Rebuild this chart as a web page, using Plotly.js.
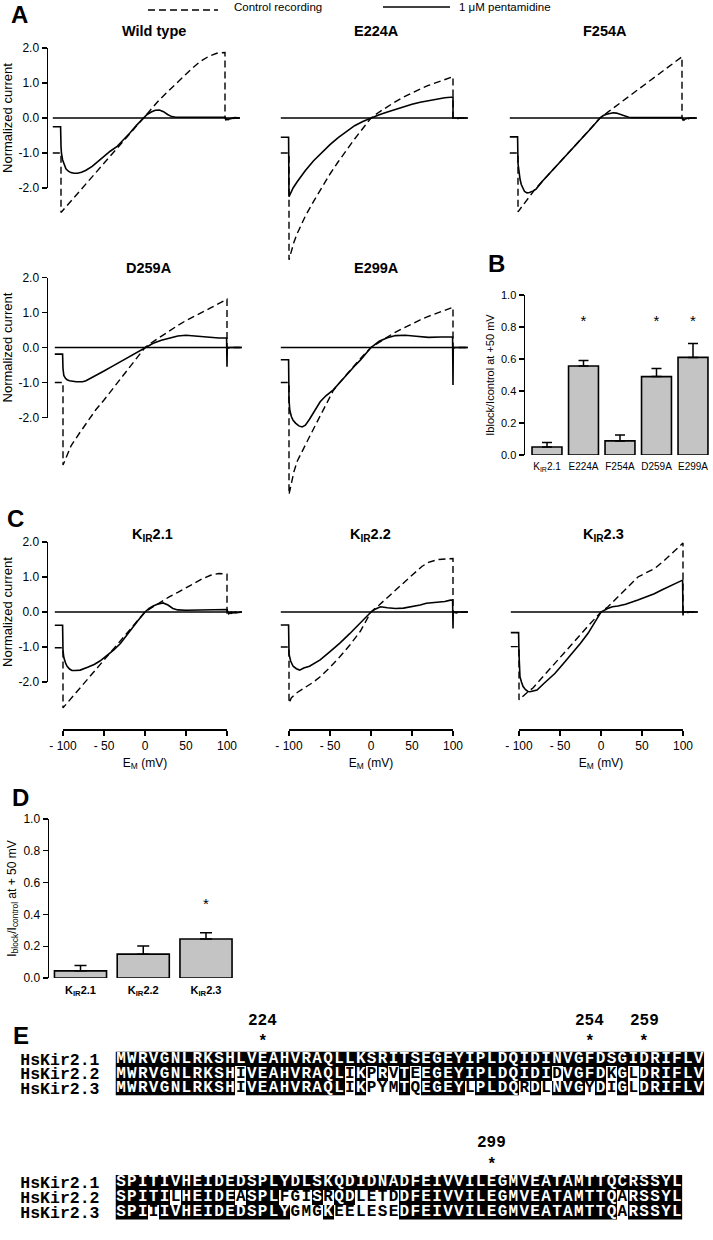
<!DOCTYPE html>
<html><head><meta charset="utf-8">
<script src="https://cdn.plot.ly/plotly-3.0.1.min.js"></script>
<style>html,body{margin:0;padding:0;background:#fff}</style>
</head><body><div id="chart" style="width:713px;height:1240px"></div>
<script>
// ---------------- DATA ----------------
// baseline (zero current) extent, mV
const baseV = [-110, 118];
const baseI = [0, 0];

// Panel A: Wild type
const wtCtrlV = [-110,-101,-100,-100,-90,-80,-70,-60,-50,-40,-30,-20,-10,0,10,20,30,40,50,60,70,80,90,95,100,100,104,108,112,118];
const wtCtrlI = [-1.0,-1.0,-1.0,-2.7,-2.43,-2.16,-1.89,-1.62,-1.35,-1.08,-0.81,-0.54,-0.27,0,0.27,0.52,0.75,0.98,1.2,1.42,1.62,1.76,1.85,1.87,1.87,0,-0.05,-0.03,0,0];
const wtPentV = [-110,-100.5,-100,-99.5,-98,-96,-94,-91,-88,-84,-80,-75,-70,-62,-55,-48,-40,-32,-24,-16,-8,0,5,10,15,20,25,30,35,40,50,60,70,80,90,100,101,104,108,112,118];
const wtPentI = [-0.25,-0.25,-0.8,-1.0,-1.2,-1.35,-1.45,-1.52,-1.56,-1.58,-1.58,-1.55,-1.5,-1.38,-1.24,-1.1,-0.95,-0.82,-0.63,-0.43,-0.21,0,0.1,0.17,0.22,0.23,0.18,0.1,0.04,0.02,0.02,0.02,0.02,0.02,0.02,0.02,-0.05,-0.03,0,0.01,0];

// E224A
const e224CtrlV = [-110,-101,-100,-100,-97,-94,-90,-85,-80,-70,-60,-50,-40,-30,-20,-10,0,10,20,30,40,50,60,70,80,90,100,100,104,108,118];
const e224CtrlI = [-1.0,-1.0,-1.0,-4.05,-3.8,-3.55,-3.3,-3.05,-2.8,-2.38,-1.98,-1.6,-1.25,-0.92,-0.6,-0.3,0,0.17,0.33,0.47,0.6,0.72,0.83,0.93,1.02,1.1,1.18,0,-0.03,0,0];
const e224PentV = [-110,-100.5,-100,-98,-95,-90,-85,-80,-70,-60,-50,-40,-30,-20,-10,0,10,20,30,40,50,60,70,80,90,100,100,104,108,118];
const e224PentI = [-0.55,-0.55,-2.25,-2.15,-2.0,-1.82,-1.65,-1.5,-1.22,-0.98,-0.76,-0.56,-0.38,-0.22,-0.1,0,0.09,0.17,0.25,0.32,0.39,0.45,0.5,0.54,0.58,0.6,0,0,0,0];

// F254A
const f254CtrlV = [-110,-101,-100,-100,-90,-80,-70,-60,-50,-40,-30,-20,-10,0,10,20,30,40,50,60,70,80,90,100,100,103,106,110,118];
const f254CtrlI = [-1.0,-1.0,-1.0,-2.68,-2.37,-2.06,-1.8,-1.55,-1.3,-1.05,-0.78,-0.52,-0.26,0,0.175,0.35,0.525,0.7,0.875,1.05,1.225,1.4,1.575,1.75,0,-0.08,-0.05,0,0];
const f254PentV = [-110,-100.5,-100,-99,-97.5,-96,-94,-92,-89,-86,-82,-78,-70,-60,-50,-40,-30,-20,-10,0,4,8,12,16,20,25,30,35,40,60,80,100,101,104,108,118];
const f254PentI = [-0.54,-0.54,-1.3,-1.55,-1.75,-1.9,-2.02,-2.1,-2.14,-2.13,-2.09,-2.03,-1.8,-1.55,-1.3,-1.05,-0.79,-0.53,-0.27,0,0.07,0.11,0.14,0.15,0.14,0.1,0.05,0.02,0.01,0.01,0.01,0.01,-0.05,-0.03,0,0];

// D259A
const d259CtrlV = [-110,-101,-100,-100,-95,-90,-80,-70,-60,-50,-40,-30,-20,-10,0,10,20,30,40,50,60,70,80,90,100,100,104,108,118];
const d259CtrlI = [-1.0,-1.0,-1.0,-3.36,-3.05,-2.8,-2.45,-2.1,-1.78,-1.5,-1.2,-0.92,-0.62,-0.3,0,0.17,0.33,0.48,0.63,0.77,0.9,1.01,1.13,1.26,1.38,0,-0.03,0,0];
const d259PentV = [-110,-100.5,-100,-99,-97,-95,-92,-88,-84,-80,-76,-72,-66,-60,-55,-50,-40,-30,-20,-10,0,10,20,30,40,50,60,70,80,90,99.5,100,100.3,104,108,118];
const d259PentI = [-0.19,-0.19,-0.6,-0.8,-0.88,-0.92,-0.95,-0.97,-0.98,-0.98,-0.98,-0.95,-0.88,-0.8,-0.73,-0.67,-0.54,-0.41,-0.27,-0.13,0,0.12,0.21,0.28,0.33,0.35,0.33,0.29,0.27,0.27,0.27,-0.55,0,0,0,0];

// E299A
const e299CtrlV = [-110,-101,-100,-100,-97,-94,-90,-85,-80,-75,-70,-62,-55,-50,-46,-40,-30,-20,-10,0,10,20,30,40,50,60,70,80,90,100,100,104,108,118];
const e299CtrlI = [-1.0,-1.0,-1.0,-4.2,-3.85,-3.55,-3.25,-3.0,-2.78,-2.55,-2.32,-1.95,-1.6,-1.38,-1.23,-1.05,-0.78,-0.5,-0.24,0,0.16,0.3,0.44,0.56,0.67,0.79,0.89,0.98,1.07,1.15,0,-0.03,0,0];
const e299PentV = [-110,-100.5,-100,-99,-97,-95,-92,-88,-84,-80,-75,-70,-62,-55,-50,-46,-38,-30,-20,-13,0,10,20,30,42,55,70,85,99.5,100,100.3,104,108,118];
const e299PentI = [-0.35,-0.35,-1.5,-1.8,-1.98,-2.08,-2.16,-2.24,-2.27,-2.22,-2.05,-1.87,-1.55,-1.38,-1.27,-1.21,-1.0,-0.78,-0.53,-0.36,0,0.18,0.28,0.34,0.35,0.32,0.29,0.3,0.3,-1.07,0,0,0,0];

// Panel C: KIR2.1
const k21CtrlV = [-110,-101,-100,-100,-90,-80,-70,-60,-50,-40,-30,-20,-10,0,10,20,30,40,50,60,70,80,90,100,100,102,105,110,118];
const k21CtrlI = [-1.02,-1.02,-1.02,-2.74,-2.47,-2.2,-1.93,-1.65,-1.38,-1.1,-0.83,-0.55,-0.27,0,0.15,0.3,0.44,0.56,0.68,0.82,0.95,1.05,1.1,1.08,-0.05,0,-0.04,0,0];
const k21PentV = [-110,-100.5,-100,-99,-97,-95,-92,-89,-85,-79,-70,-62,-55,-45,-38,-30,-22,-15,-8,0,5,10,15,22,28,34,40,50,60,70,80,90,100,102,105,110,118];
const k21PentI = [-0.38,-0.38,-1.1,-1.3,-1.45,-1.55,-1.63,-1.67,-1.67,-1.66,-1.58,-1.5,-1.4,-1.22,-1.08,-0.9,-0.65,-0.44,-0.23,0,0.1,0.17,0.22,0.26,0.2,0.1,0.06,0.05,0.05,0.05,0.06,0.06,0.07,-0.05,0,-0.03,0];

// KIR2.2
const k22CtrlV = [-110,-101,-100,-100,-97,-94,-90,-80,-70,-62,-50,-38,-26,-13,0,10,21,30,41.5,50,62,70,82,90,99,100,100,104,108,118];
const k22CtrlI = [-1.0,-1.0,-1.0,-2.6,-2.45,-2.38,-2.3,-2.15,-2.0,-1.85,-1.58,-1.28,-0.95,-0.55,0,0.2,0.44,0.62,0.86,1.05,1.3,1.42,1.5,1.52,1.53,1.53,0,-0.03,0,0];
const k22PentV = [-110,-100.5,-100,-98,-95,-91,-87,-82,-75,-68,-62,-50,-38,-26,-13,0,5,11.6,20,30,39.6,50,60,67.6,80,90,97,99.5,100,100.3,104,108,118];
const k22PentI = [-0.37,-0.37,-1.2,-1.4,-1.55,-1.62,-1.66,-1.6,-1.55,-1.45,-1.37,-1.13,-0.89,-0.62,-0.31,0,0.08,0.15,0.12,0.1,0.11,0.15,0.2,0.25,0.28,0.3,0.34,0.34,-0.47,0,0,0,0];

// KIR2.3
const k23CtrlV = [-110,-101,-100,-100,-95,-90,-83,-75,-65,-56,-45,-35,-28,-15,0,8.5,15,25.6,35,45,55,66,76,86.6,93,99,100,100,104,108,118];
const k23CtrlI = [-0.99,-0.99,-0.99,-2.51,-2.4,-2.3,-2.17,-1.95,-1.7,-1.46,-1.17,-0.9,-0.71,-0.38,0,0.15,0.3,0.54,0.78,1.0,1.12,1.25,1.45,1.68,1.82,1.97,1.97,0,-0.03,0,0];
const k23PentV = [-110,-100.5,-100,-99.5,-98.8,-97,-95,-92,-89,-86.6,-82,-78,-70,-56,-45,-35,-25,-15.8,-8,0,8,14,20.7,30,45,55,65,74,85,93,99.5,100,100.3,104,108,118];
const k23PentI = [-0.59,-0.59,-1.2,-1.5,-1.85,-2.0,-2.13,-2.22,-2.27,-2.28,-2.26,-2.23,-2.05,-1.75,-1.45,-1.18,-0.89,-0.61,-0.3,0,0.1,0.15,0.17,0.22,0.34,0.42,0.52,0.63,0.75,0.84,0.91,-0.1,0,0,0,0];

// Panel B bars
const catB = ['K<sub>IR</sub>2.1','E224A','F254A','D259A','E299A'];
const meanB = [0.05, 0.556, 0.088, 0.49, 0.61];
const semB = [0.028, 0.034, 0.037, 0.05, 0.087];
const sigB = [null, 0.83, null, 0.83, 0.83];

// Panel D bars
const catD = ['K<sub>IR</sub>2.1','K<sub>IR</sub>2.2','K<sub>IR</sub>2.3'];
const meanD = [0.045, 0.15, 0.245];
const semD = [0.033, 0.052, 0.04];
const sigD = [null, null, 0.46];

// Panel E alignment
const seqNames = ['HsKir2.1','HsKir2.2','HsKir2.3'];
const block1Start = 211;
const block1Seqs = [
  'MWRVGNLRKSHLVEAHVRAQLLKSRITSEGEYIPLDQIDINVGFDSGIDRIFLV',
  'MWRVGNLRKSHIVEAHVRAQLIKPRVTEEGEYIPLDQIDIDVGFDKGLDRIFLV',
  'MWRVGNLRKSHIVEAHVRAQLIKPYMTQEGEYLPLDQRDLNVGYDIGLDRIFLV'
];
const block2Start = 265;
const block2Seqs = [
  'SPITIVHEIDEDSPLYDLSKQDIDNADFEIVVILEGMVEATAMTTQCRSSYL',
  'SPITILHEIDEASPLFGISRQDLETDDFEIVVILEGMVEATAMTTQARSSYL',
  'SPIIIVHEIDEDSPLYGMGKEELESEDFEIVVILEGMVEATAMTTQARSSYL'
];
const marks1 = [224, 254, 259];
const marks2 = [299];

// ---------------- LAYOUT HELPERS ----------------
const FONT = 'Liberation Sans, Arial, Helvetica, sans-serif';
const MONO = 'Liberation Mono, Courier New, monospace';
const W = 713, H = 1240;
const fx = p => p / W;
const fy = p => 1 - p / H;
const PX_MV = 0.82, PX_I = 35;

const layout = {
  width: W, height: H,
  margin: {l:0, r:0, t:0, b:0},
  paper_bgcolor: '#ffffff', plot_bgcolor: 'rgba(0,0,0,0)',
  showlegend: false,
  font: {family: FONT, color: '#000', size: 12},
  shapes: [], annotations: []
};
const traces = [];
const ann = (x, y, text, size, extra) => layout.annotations.push(Object.assign({
  xref:'paper', yref:'paper', x: fx(x), y: fy(y), text: text, showarrow:false,
  xanchor:'center', yanchor:'middle', font:{family:FONT, size:size, color:'#000'}
}, extra || {}));

const panels = [
  {title:'<b>Wild type</b>', tx:154, ty:31, d0:48, d1:246, m:61, top:38, bot:266, zero:118, cv:wtCtrlV, ci:wtCtrlI, pv:wtPentV, pi:wtPentI, showY:true},
  {title:'<b>E224A</b>', tx:376, ty:31, d0:276, d1:474, m:289, top:38, bot:266, zero:118, cv:e224CtrlV, ci:e224CtrlI, pv:e224PentV, pi:e224PentI},
  {title:'<b>F254A</b>', tx:605, ty:31, d0:505, d1:705, m:518, top:38, bot:266, zero:118, cv:f254CtrlV, ci:f254CtrlI, pv:f254PentV, pi:f254PentI},
  {title:'<b>D259A</b>', tx:149, ty:268, d0:48, d1:246, m:63, top:272, bot:500, zero:347.5, cv:d259CtrlV, ci:d259CtrlI, pv:d259PentV, pi:d259PentI, showY:true},
  {title:'<b>E299A</b>', tx:376, ty:268, d0:276, d1:474, m:289, top:272, bot:500, zero:347.5, cv:e299CtrlV, ci:e299CtrlI, pv:e299PentV, pi:e299PentI},
  {title:'<b>K<sub>IR</sub>2.1</b>', tx:152, ty:535, d0:48, d1:246, m:63, top:540, bot:729, zero:612, cv:k21CtrlV, ci:k21CtrlI, pv:k21PentV, pi:k21PentI, showY:true, showX:true},
  {title:'<b>K<sub>IR</sub>2.2</b>', tx:371, ty:535, d0:276, d1:474, m:289, top:540, bot:729, zero:612, cv:k22CtrlV, ci:k22CtrlI, pv:k22PentV, pi:k22PentI, showX:true},
  {title:'<b>K<sub>IR</sub>2.3</b>', tx:603, ty:535, d0:505, d1:705, m:519, top:540, bot:729, zero:612, cv:k23CtrlV, ci:k23CtrlI, pv:k23PentV, pi:k23PentI, showX:true}
];

let nx = 9, ny = 9;
panels.forEach((p, i) => {
  const n = i + 1, s = n === 1 ? '' : String(n);
  layout['xaxis' + s] = {domain:[fx(p.d0), fx(p.d1)], range:[-100 - (p.m - p.d0)/PX_MV, -100 + (p.d1 - p.m)/PX_MV], visible:false, anchor:'y' + s, fixedrange:true};
  layout['yaxis' + s] = {domain:[fy(p.bot), fy(p.top)], range:[-(p.bot - p.zero)/PX_I, (p.zero - p.top)/PX_I], visible:false, anchor:'x' + s, fixedrange:true};
  traces.push({type:'scatter', mode:'lines', x:baseV, y:baseI, xaxis:'x'+s, yaxis:'y'+s, line:{color:'#000', width:1.5}, hoverinfo:'skip'});
  traces.push({type:'scatter', mode:'lines', x:p.cv, y:p.ci, xaxis:'x'+s, yaxis:'y'+s, line:{color:'#000', width:1.4, dash:'7px,4px'}, name:'Control recording'});
  traces.push({type:'scatter', mode:'lines', x:p.pv, y:p.pi, xaxis:'x'+s, yaxis:'y'+s, line:{color:'#000', width:1.6}, name:'1 μM pentamidine'});
  ann(p.tx, p.ty, p.title, 14.5);
  if (p.showY) {
    const k = ny++;
    layout['yaxis' + k] = {
      domain:[fy(p.zero + 2*PX_I), fy(p.zero - 2*PX_I)], range:[-2, 2], anchor:'x' + s, color:'#000',
      showline:true, linewidth:1.5, linecolor:'#000', ticks:'outside', ticklen:5, tickwidth:1.3, tickcolor:'#000',
      tickvals:[-2,-1,0,1,2], ticktext:['-2.0','-1.0','0.0','1.0','2.0'], tickfont:{size:12, color:'#000'},
      showgrid:false, zeroline:false, fixedrange:true,
      title:{text:'Normalized current', font:{size:13, color:'#000'}, standoff:4}
    };
    traces.push({type:'scatter', mode:'lines', x:[], y:[], xaxis:'x'+s, yaxis:'y'+k, hoverinfo:'skip'});
  }
  if (p.showX) {
    const k = nx++;
    layout['xaxis' + k] = {
      domain:[fx(p.m), fx(p.m + 200*PX_MV)], range:[-100, 100], anchor:'y' + s, color:'#000',
      showline:true, linewidth:1.5, linecolor:'#000', ticks:'outside', ticklen:5, tickwidth:1.3, tickcolor:'#000',
      tickvals:[-100,-50,0,50,100], ticktext:['- 100','- 50','0','50','100'], tickfont:{size:12, color:'#000'},
      showgrid:false, zeroline:false, fixedrange:true,
      title:{text:'E<sub>M</sub> (mV)', font:{size:12, color:'#000'}, standoff:6}
    };
    traces.push({type:'scatter', mode:'lines', x:[], y:[], xaxis:'x'+k, yaxis:'y'+s, hoverinfo:'skip'});
  }
});

// ---------------- Panel B ----------------
layout.xaxis12 = {domain:[fx(525), fx(712)], range:[-(547-525)/36.5, 4 + (712-693)/36.5], type:'category', anchor:'y12', color:'#000',
  showline:false, ticks:'', showgrid:false, zeroline:false, tickfont:{size:10, color:'#000'}, ticklabelstandoff:4, fixedrange:true};
layout.yaxis12 = {domain:[fy(455), fy(295)], range:[0, 1], anchor:'x12', color:'#000', showline:true, linewidth:1.5, linecolor:'#000',
  ticks:'outside', ticklen:5, tickwidth:1.3, tickcolor:'#000', tickvals:[0,0.2,0.4,0.6,0.8,1], ticktext:['0.0','0.2','0.4','0.6','0.8','1.0'],
  tickfont:{size:11, color:'#000'}, showgrid:false, zeroline:false, fixedrange:true,
  title:{text:'Iblock/Icontrol at +50 mV', font:{size:11, color:'#000'}, standoff:4}};
traces.push({type:'bar', x:catB, y:meanB, width:0.82, xaxis:'x12', yaxis:'y12',
  marker:{color:'#c4c4c4', line:{color:'#000', width:1.6}},
  error_y:{type:'data', symmetric:false, array:semB, arrayminus:catB.map(() => 0), color:'#000', thickness:1.5, width:5}});
traces.push({type:'scatter', mode:'text', x:catB, y:sigB, text:catB.map(() => '*'), textfont:{size:15, color:'#000'}, xaxis:'x12', yaxis:'y12', cliponaxis:false, hoverinfo:'skip'});

// ---------------- Panel D ----------------
layout.xaxis13 = {domain:[fx(49), fx(250)], range:[-(80.5-49)/62.75, 2 + (250-206)/62.75], type:'category', anchor:'y13', color:'#000',
  showline:false, ticks:'', showgrid:false, zeroline:false, tickfont:{size:11, weight:'bold', color:'#000'}, ticklabelstandoff:4, fixedrange:true};
layout.yaxis13 = {domain:[fy(978), fy(819)], range:[0, 1], anchor:'x13', color:'#000', showline:true, linewidth:1.5, linecolor:'#000',
  ticks:'outside', ticklen:5, tickwidth:1.3, tickcolor:'#000', tickvals:[0,0.2,0.4,0.6,0.8,1], ticktext:['0.0','0.2','0.4','0.6','0.8','1.0'],
  tickfont:{size:12, color:'#000'}, showgrid:false, zeroline:false, fixedrange:true,
  title:{text:'I<sub>block</sub>/I<sub>control</sub> at + 50 mV', font:{size:12, color:'#000'}, standoff:4}};
traces.push({type:'bar', x:catD, y:meanD, width:0.83, xaxis:'x13', yaxis:'y13',
  marker:{color:'#c4c4c4', line:{color:'#000', width:1.6}},
  error_y:{type:'data', symmetric:false, array:semD, arrayminus:catD.map(() => 0), color:'#000', thickness:1.5, width:6}});
traces.push({type:'scatter', mode:'text', x:catD, y:sigD, text:catD.map(() => '*'), textfont:{size:15, color:'#000'}, xaxis:'x13', yaxis:'y13', cliponaxis:false, hoverinfo:'skip'});

// ---------------- Panel E ----------------
const CELL = 10.9, X0 = 115.5;
const shade = seqs => seqs.map(s => s.split('').map((c, j) => c === seqs[0][j] ? 1 : 0));
function alignBlock(seqs, start, marks, xn, top, bot, numY, starY) {
  const len = seqs[0].length;
  const z = shade(seqs);
  layout['xaxis' + xn] = {domain:[fx(X0), fx(X0 + len*CELL)], range:[-0.5, len - 0.5], visible:false, anchor:'y' + xn, fixedrange:true};
  layout['yaxis' + xn] = {domain:[fy(bot), fy(top)], range:[seqs.length - 0.5, -0.5], anchor:'x' + xn, color:'#000',
    tickvals:seqNames.map((_, i) => i), ticktext:seqNames, ticks:'', showline:false, showgrid:false, zeroline:false,
    tickfont:{family:MONO, size:16.5, weight:'bold', color:'#000'}, ticklabelstandoff:15, fixedrange:true};
  traces.push({type:'heatmap', z:z, colorscale:[[0,'#ffffff'],[1,'#000000']], zmin:0, zmax:1,
    showscale:false, xaxis:'x' + xn, yaxis:'y' + xn, hoverinfo:'skip'});
  const tx = [], ty = [], tt = [], tc = [];
  seqs.forEach((s, r) => s.split('').forEach((c, j) => {
    tx.push(j); ty.push(r); tt.push(c); tc.push(z[r][j] ? '#ffffff' : '#000000');
  }));
  traces.push({type:'scatter', mode:'text', x:tx, y:ty, text:tt, textposition:'middle center',
    textfont:{family:MONO, size:16, weight:'bold', color:tc}, xaxis:'x' + xn, yaxis:'y' + xn, cliponaxis:false, hoverinfo:'skip'});
  marks.forEach(r => {
    layout.annotations.push({xref:'x' + xn, yref:'paper', x:r - start, y:fy(numY), text:'<b>' + r + '</b>', showarrow:false,
      xanchor:'center', yanchor:'middle', font:{family:MONO, size:16, color:'#000'}});
    layout.annotations.push({xref:'x' + xn, yref:'paper', x:r - start, y:fy(starY), text:'<b>*</b>', showarrow:false,
      xanchor:'center', yanchor:'middle', font:{family:MONO, size:16, color:'#000'}});
  });
}
alignBlock(block1Seqs, block1Start, marks1, 14, 1051.5, 1095.5, 1021, 1042);
alignBlock(block2Seqs, block2Start, marks2, 15, 1175, 1219.5, 1143, 1165);

// ---------------- Legend & panel letters ----------------
layout.shapes.push({type:'line', xref:'paper', yref:'paper', x0:fx(148), x1:fx(218), y0:fy(10), y1:fy(10), line:{color:'#000', width:1.3, dash:'7px,4px'}});
layout.shapes.push({type:'line', xref:'paper', yref:'paper', x0:fx(383), x1:fx(450), y0:fy(7), y1:fy(7), line:{color:'#000', width:1.3}});
ann(232, 7, 'Control recording', 11.5, {xanchor:'left'});
ann(457, 7, '1 μM pentamidine', 11.5, {xanchor:'left'});

ann(19, 15, '<b>A</b>', 24);
ann(496, 263, '<b>B</b>', 24);
ann(15, 518, '<b>C</b>', 24);
ann(20, 797, '<b>D</b>', 24);
ann(21, 1035, '<b>E</b>', 24);

Plotly.newPlot('chart', traces, layout, {staticPlot:true, displayModeBar:false});
</script></body></html>
